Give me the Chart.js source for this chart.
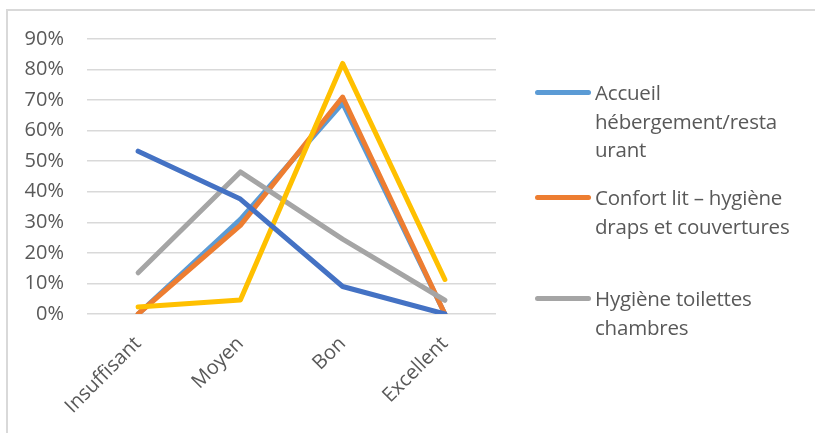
<!DOCTYPE html>
<html>
<head>
<meta charset="utf-8">
<script src="https://cdn.jsdelivr.net/npm/chart.js@4/dist/chart.umd.min.js"></script>
<style>
  html, body { margin: 0; padding: 0; background: #fff; }
  #frame {
    position: absolute; left: 6px; top: 9px; width: 820px; height: 440px;
    border-top: 2px solid #d9d9d9; border-left: 2px solid #d9d9d9;
    box-sizing: border-box;
  }
  #wrap { position: absolute; left: 0; top: 0; width: 815px; height: 433px; }
  #legend { position: absolute; left: 0; top: 0; font-family: "Open Sans", sans-serif; color: #595959; }
  .item { position: absolute; left: 535px; width: 275px; }
  .swatch { position: absolute; left: 0; top: 12px; width: 56px; height: 5px; border-radius: 2.5px; }
  .txt { position: absolute; left: 60px; width: 215px; font-size: 20.5px; line-height: 28.5px; white-space: nowrap; letter-spacing: -0.2px; }
</style>
</head>
<body>
<div id="frame"></div>
<div id="wrap"><canvas id="chart" width="815" height="433"></canvas></div>
<div id="legend"></div>
<script>
const categories = ['Insuffisant', 'Moyen', 'Bon', 'Excellent'];
const seriesNames = [
  'Accueil hébergement/restaurant',
  'Confort lit – hygiène draps et couvertures',
  'Hygiène toilettes chambres',
  'Série 4',
  'Série 5'
];
// legend text wrapped the way the original wraps it
const legendLines = [
  ['Accueil', 'hébergement/resta', 'urant'],
  ['Confort lit – hygiène', 'draps et couvertures'],
  ['Hygiène toilettes', 'chambres']
];
const accueil = [0.00, 0.31, 0.69, 0.00];
const confort = [0.00, 0.29, 0.71, 0.00];
const hygieneToilettes = [0.135, 0.465, 0.245, 0.045];
const serie4 = [0.023, 0.046, 0.82, 0.113];
const serie5 = [0.533, 0.376, 0.09, 0.00];
const yTicks = [0, 0.1, 0.2, 0.3, 0.4, 0.5, 0.6, 0.7, 0.8, 0.9];
const colors = ['#5B9BD5', '#ED7D31', '#A5A5A5', '#FFC000', '#4472C4'];

const allSeries = [accueil, confort, hygieneToilettes, serie4, serie5];

// later series are painted over earlier ones, like the original
const datasets = allSeries.map((vals, i) => ({
  label: seriesNames[i],
  data: vals,
  order: allSeries.length - i,
  borderColor: colors[i],
  backgroundColor: colors[i],
  borderWidth: 5,
  borderCapStyle: 'round',
  borderJoinStyle: 'round',
  pointRadius: 0,
  tension: 0,
  fill: false
}));

const chart = new Chart(document.getElementById('chart').getContext('2d'), {
  type: 'line',
  data: { labels: categories, datasets: datasets },
  options: {
    responsive: false,
    animation: false,
    layout: { padding: { left: 0, top: 39, right: 319, bottom: 0 } },
    plugins: { legend: { display: false }, tooltip: { enabled: false } },
    scales: {
      x: {
        offset: true,
        grid: { display: false, drawTicks: false },
        border: { display: false },
        ticks: {
          color: '#595959',
          font: { family: 'Open Sans', size: 20 },
          maxRotation: 45, minRotation: 45,
          padding: 18
        },
        afterFit: (s) => { s.height = 433 - 314; }
      },
      y: {
        min: 0, max: 0.9,
        afterBuildTicks: (s) => { s.ticks = yTicks.map(v => ({ value: v })); },
        grid: { color: '#d9d9d9', lineWidth: 1.5, drawTicks: false },
        border: { display: false },
        ticks: {
          color: '#595959',
          font: { family: 'Open Sans', size: 20 },
          padding: 23,
          callback: (v) => Math.round(v * 100) + '%'
        },
        afterFit: (s) => { s.width = 87; }
      }
    }
  }
});

// legend built from the chart's own datasets, only the entries visible in the original
const legendTops = [78, 183, 284];
const legendEl = document.getElementById('legend');
legendLines.forEach((lines, i) => {
  const ds = chart.data.datasets[i];
  const item = document.createElement('div');
  item.className = 'item';
  item.style.top = legendTops[i] + 'px';
  item.title = ds.label;
  item.innerHTML = '<div class="swatch" style="background:' + ds.borderColor + '"></div>' +
                   '<div class="txt">' + lines.join('<br>') + '</div>';
  legendEl.appendChild(item);
});
</script>
</body>
</html>
